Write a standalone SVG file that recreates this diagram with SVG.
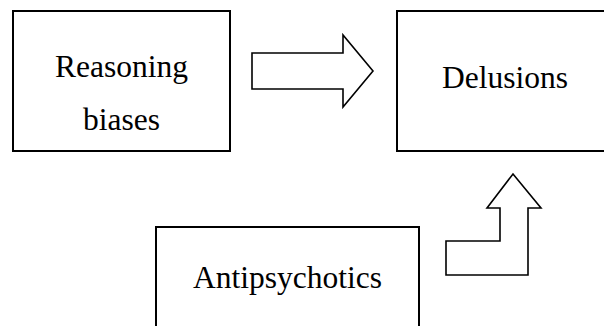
<svg xmlns="http://www.w3.org/2000/svg" width="604" height="326" viewBox="0 0 604 326">
<style>
.box{fill:#fff;stroke:#000;stroke-width:2}
.arr{fill:#fff;stroke:#000;stroke-width:1.6;stroke-linejoin:miter}
.t{font-family:"Liberation Serif","Times New Roman",serif;font-size:31.5px;fill:#000;text-anchor:middle}
</style>
<rect width="604" height="326" fill="#fff"/>
<g id="reasoning">
<rect class="box" x="13" y="11" width="217" height="140"/>
<text class="t" x="121.5" y="77">Reasoning</text>
<text class="t" x="121.5" y="130">biases</text>
</g>
<g id="delusions">
<rect class="box" x="397" y="11" width="220" height="140"/>
<text class="t" x="505" y="88">Delusions</text>
</g>
<g id="antipsychotics">
<rect class="box" x="156" y="227" width="263" height="120"/>
<text class="t" x="287.5" y="288">Antipsychotics</text>
</g>
<g id="connectors">
<path class="arr" d="M252,53 L343,53 L343,35 L373,71 L343,107 L343,89 L252,89 Z"/>
<path class="arr" d="M446,241 L500,241 L500,208 L487,208 L513,174 L541,208 L528,208 L528,275 L446,275 Z"/>
</g>
</svg>
